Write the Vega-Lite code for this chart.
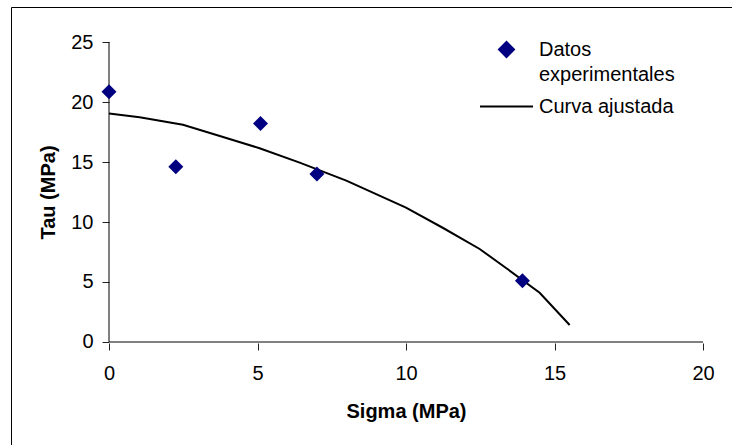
{
  "$schema": "https://vega.github.io/schema/vega-lite/v6.json",
  "width": 722,
  "height": 439,
  "autosize": {"type": "none"},
  "padding": {"left": 11, "top": 7, "right": -1, "bottom": -1},
  "background": "white",
  "config": {
    "view": {"stroke": "black", "strokeWidth": 1},
    "font": "Liberation Sans"
  },
  "datasets": {
    "puntos": [
      {"sigma": 0, "tau": 20.85, "serie": "Datos experimentales"},
      {"sigma": 2.25, "tau": 14.6, "serie": "Datos experimentales"},
      {"sigma": 5.1, "tau": 18.2, "serie": "Datos experimentales"},
      {"sigma": 7.0, "tau": 14.0, "serie": "Datos experimentales"},
      {"sigma": 13.92, "tau": 5.1, "serie": "Datos experimentales"}
    ],
    "curva": [
      {"sigma": 0, "tau": 19.05, "serie": "Curva ajustada"},
      {"sigma": 1.03, "tau": 18.72, "serie": "Curva ajustada"},
      {"sigma": 2.49, "tau": 18.1, "serie": "Curva ajustada"},
      {"sigma": 3.84, "tau": 17.08, "serie": "Curva ajustada"},
      {"sigma": 5.07, "tau": 16.15, "serie": "Curva ajustada"},
      {"sigma": 6.42, "tau": 14.95, "serie": "Curva ajustada"},
      {"sigma": 7.99, "tau": 13.45, "serie": "Curva ajustada"},
      {"sigma": 10.0, "tau": 11.2, "serie": "Curva ajustada"},
      {"sigma": 11.25, "tau": 9.5, "serie": "Curva ajustada"},
      {"sigma": 12.48, "tau": 7.75, "serie": "Curva ajustada"},
      {"sigma": 13.38, "tau": 6.15, "serie": "Curva ajustada"},
      {"sigma": 14.5, "tau": 4.1, "serie": "Curva ajustada"},
      {"sigma": 15.51, "tau": 1.42, "serie": "Curva ajustada"}
    ]
  },
  "layer": [
    {
      "data": {"values": [{}]},
      "mark": {"type": "rule", "color": "#808080", "strokeWidth": 2},
      "encoding": {
        "x": {"datum": 0, "type": "quantitative", "scale": {"domain": [-3.3, 21.01], "nice": false, "zero": false}},
        "x2": {"datum": 20},
        "y": {"datum": 0, "type": "quantitative", "scale": {"domain": [-8.667, 27.917], "nice": false, "zero": false}}
      }
    },
    {
      "data": {"values": [{}]},
      "mark": {"type": "rule", "color": "black", "strokeWidth": 1},
      "encoding": {
        "x": {"datum": 0, "type": "quantitative", "scale": {"domain": [-3.3, 21.01], "nice": false, "zero": false}},
        "y": {"datum": 0, "type": "quantitative", "scale": {"domain": [-8.667, 27.917], "nice": false, "zero": false}},
        "y2": {"datum": 25}
      }
    },
    {
      "data": {"name": "curva"},
      "mark": {"type": "line", "strokeWidth": 2},
      "encoding": {
        "x": {"field": "sigma", "type": "quantitative", "scale": {"domain": [-3.3, 21.01], "nice": false, "zero": false}},
        "y": {"field": "tau", "type": "quantitative", "scale": {"domain": [-8.667, 27.917], "nice": false, "zero": false}},
        "color": {
          "field": "serie", "type": "nominal",
          "scale": {"domain": ["Datos experimentales", "Curva ajustada"], "range": ["#000080", "black"]},
          "legend": {
            "orient": "none", "legendX": 468, "legendY": 15, "title": null,
            "padding": 0, "rowPadding": 0,
            "labelFont": "Liberation Sans", "labelFontSize": 20, "labelColor": "black",
            "labelOffset": 5, "labelLimit": 400, "labelBaseline": "alphabetic",
            "symbolSize": 2809,
            "labelExpr": "datum.label == 'Datos experimentales' ? ['Datos', 'experimentales'] : datum.label",
            "encode": {
              "symbols": {
                "update": {
                  "shape": {"signal": "datum.value == 'Datos experimentales' ? 'diamond' : 'stroke'"},
                  "size": {"signal": "datum.value == 'Datos experimentales' ? 225 : 2809"},
                  "fill": {"signal": "datum.value == 'Datos experimentales' ? '#000080' : 'transparent'"},
                  "stroke": {"signal": "datum.value == 'Datos experimentales' ? 'transparent' : 'black'"},
                  "strokeWidth": {"value": 2},
                  "opacity": {"value": 1},
                  "y": {"signal": "datum.value == 'Datos experimentales' ? 27.5 : 21.5"}
                }
              },
              "labels": {
                "update": {
                  "dy": {"value": 6},
                  "lineHeight": {"value": 25},
                  "y": {"signal": "datum.value == 'Datos experimentales' ? 27.5 : 21.5"}
                }
              }
            }
          }
        }
      }
    },
    {
      "data": {"name": "puntos"},
      "mark": {"type": "point", "shape": "diamond", "filled": true, "size": 225, "opacity": 1},
      "encoding": {
        "x": {
          "field": "sigma", "type": "quantitative",
          "scale": {"domain": [-3.3, 21.01], "nice": false, "zero": false},
          "axis": {
            "orient": "bottom", "offset": -103, "values": [0, 5, 10, 15, 20],
            "domain": false, "grid": false, "tickSize": 7, "tickColor": "#222222",
            "labelPadding": 13, "labelFont": "Liberation Sans", "labelFontSize": 20, "labelColor": "black",
            "title": "Sigma (MPa)", "titleFont": "Liberation Sans", "titleFontSize": 20, "titleFontWeight": "bold",
            "titleColor": "black", "titlePadding": 18, "titleX": 395
          }
        },
        "y": {
          "field": "tau", "type": "quantitative",
          "scale": {"domain": [-8.667, 27.917], "nice": false, "zero": false},
          "axis": {
            "orient": "left", "offset": -98, "values": [0, 5, 10, 15, 20, 25],
            "domain": false, "grid": false, "tickSize": 7, "tickColor": "#222222",
            "labelPadding": 9, "labelFont": "Liberation Sans", "labelFontSize": 20, "labelColor": "black",
            "title": "Tau (MPa)", "titleFont": "Liberation Sans", "titleFontSize": 20, "titleFontWeight": "bold",
            "titleColor": "black", "titlePadding": 12, "titleY": 185
          }
        },
        "color": {
          "field": "serie", "type": "nominal",
          "scale": {"domain": ["Datos experimentales", "Curva ajustada"], "range": ["#000080", "black"]},
          "legend": {
            "orient": "none", "legendX": 468, "legendY": 15, "title": null,
            "padding": 0, "rowPadding": 0,
            "labelFont": "Liberation Sans", "labelFontSize": 20, "labelColor": "black",
            "labelOffset": 5, "labelLimit": 400, "labelBaseline": "alphabetic",
            "symbolSize": 2809,
            "labelExpr": "datum.label == 'Datos experimentales' ? ['Datos', 'experimentales'] : datum.label",
            "encode": {
              "symbols": {
                "update": {
                  "shape": {"signal": "datum.value == 'Datos experimentales' ? 'diamond' : 'stroke'"},
                  "size": {"signal": "datum.value == 'Datos experimentales' ? 225 : 2809"},
                  "fill": {"signal": "datum.value == 'Datos experimentales' ? '#000080' : 'transparent'"},
                  "stroke": {"signal": "datum.value == 'Datos experimentales' ? 'transparent' : 'black'"},
                  "strokeWidth": {"value": 2},
                  "opacity": {"value": 1},
                  "y": {"signal": "datum.value == 'Datos experimentales' ? 27.5 : 21.5"}
                }
              },
              "labels": {
                "update": {
                  "dy": {"value": 6},
                  "lineHeight": {"value": 25},
                  "y": {"signal": "datum.value == 'Datos experimentales' ? 27.5 : 21.5"}
                }
              }
            }
          }
        }
      }
    }
  ]
}
